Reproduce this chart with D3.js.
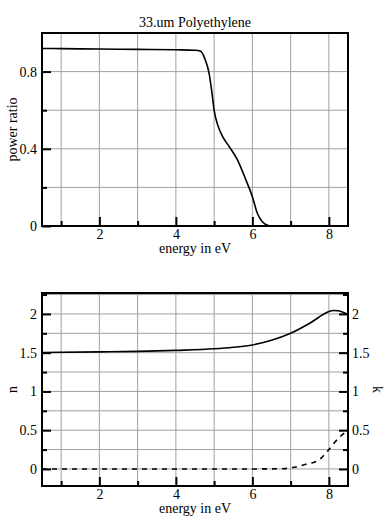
<!DOCTYPE html>
<html>
<script src="https://d3js.org/d3.v7.min.js"></script>
<style>
    body { margin: 0; background: #fff; }
    .domain { display: none; }
    .tick text { fill: #000; }
    .tick line { stroke: #000; stroke-width: 2px; }
</style>
<body></body>
<script>
    // measured values
    const ratioE = [0.5, 1, 2, 3, 4, 4.5, 4.65, 4.75, 4.87, 4.95, 5.0, 5.1, 5.22, 5.4, 5.61, 5.83, 6.0, 6.13, 6.25, 6.35, 6.48, 7, 8.5];
    const ratio = [0.92, 0.919, 0.917, 0.915, 0.913, 0.911, 0.905, 0.87, 0.79, 0.68, 0.6, 0.52, 0.464, 0.41, 0.343, 0.239, 0.152, 0.066, 0.025, 0.008, 0, 0, 0];
    const nE = [0.5, 2, 3, 4, 5, 5.5, 6, 6.5, 7, 7.5, 8, 8.1, 8.25, 8.5];
    const nVal = [1.502, 1.51, 1.517, 1.53, 1.55, 1.57, 1.6, 1.66, 1.75, 1.88, 2.03, 2.045, 2.04, 1.99];
    const kE = [0.5, 6, 6.8, 7, 7.17, 7.4, 7.65, 7.8, 7.91, 8.0, 8.13, 8.3, 8.45];
    const kVal = [0, 0, 0.003, 0.015, 0.03, 0.06, 0.094, 0.14, 0.2, 0.25, 0.33, 0.42, 0.48];

    const xMajor = [2, 4, 6, 8], xMinor = [1, 3, 5, 7];
    const topMajor = [0, 0.4, 0.8], topMinor = [0.2, 0.6];
    const botMajor = [0, 0.5, 1, 1.5, 2], botMinor = [-0.25, 0.25, 0.75, 1.25, 1.75, 2.25];

    const width = 390, height = 520;
    const font = "'Liberation Serif', 'Times New Roman', serif";
    const svg = d3.select("body").append("svg").attr("width", width).attr("height", height)
        .attr("font-family", font);

    const left = 42, right = 348;
    const x = d3.scaleLinear().domain([0.5, 8.5]).range([left, right]);

    function styleAxis(sel) {
        sel.attr("font-family", font).attr("font-size", 14);
        sel.selectAll("text").attr("font-family", font).attr("font-size", 14);
    }

    function panel(top, bottom, yDomain, major, minor, name, yLabel, rightAxis) {
        const y = d3.scaleLinear().domain(yDomain).range([bottom, top]);
        const g = svg.append("g");
        g.append("clipPath").attr("id", "clip" + name)
            .append("rect").attr("x", left).attr("y", top).attr("width", right - left).attr("height", bottom - top);

        // grid
        xMajor.concat(xMinor).forEach(v => {
            g.append("line").attr("x1", x(v)).attr("x2", x(v)).attr("y1", top).attr("y2", bottom)
                .attr("stroke", "#a0a0a0").attr("stroke-width", 1);
        });
        major.concat(minor).filter(v => v > yDomain[0] && v < yDomain[1]).forEach(v => {
            g.append("line").attr("x1", left).attr("x2", right).attr("y1", y(v)).attr("y2", y(v))
                .attr("stroke", "#a0a0a0").attr("stroke-width", 1);
        });

        const inMinor = minor.filter(v => v >= yDomain[0] && v <= yDomain[1]);

        // axes
        g.append("g").attr("transform", `translate(0,${bottom})`)
            .call(d3.axisBottom(x).tickValues(xMajor).tickSize(-9).tickPadding(3).tickFormat(d3.format("d")))
            .call(styleAxis);
        g.append("g").attr("transform", `translate(0,${bottom})`)
            .call(d3.axisBottom(x).tickValues(xMinor).tickSize(-5).tickFormat(""));
        g.append("g").attr("transform", `translate(${left},0)`)
            .call(d3.axisLeft(y).tickValues(major).tickSize(-9).tickPadding(5).tickFormat(d => d3.format("")(d)))
            .call(styleAxis);
        g.append("g").attr("transform", `translate(${left},0)`)
            .call(d3.axisLeft(y).tickValues(inMinor).tickSize(-5).tickFormat(""));
        if (rightAxis) {
            g.append("g").attr("transform", `translate(${right},0)`)
                .call(d3.axisRight(y).tickValues(major).tickSize(-9).tickPadding(4).tickFormat(d => d3.format("")(d)))
                .call(styleAxis);
            g.append("g").attr("transform", `translate(${right},0)`)
                .call(d3.axisRight(y).tickValues(inMinor).tickSize(-5).tickFormat(""));
        }

        g.append("rect").attr("x", left).attr("y", top).attr("width", right - left).attr("height", bottom - top)
            .attr("fill", "none").attr("stroke", "#000").attr("stroke-width", 2);

        g.append("text").attr("x", (left + right) / 2).attr("y", bottom + 27)
            .attr("text-anchor", "middle").attr("font-size", 14).text("energy in eV");
        g.append("text").attr("transform", `translate(12,${(top + bottom) / 2}) rotate(-90)`)
            .attr("text-anchor", "middle").attr("dy", "0.35em").attr("font-size", 14).text(yLabel);
        return { g, y, clip: "url(#clip" + name + ")" };
    }

    // top panel: power ratio
    const p1 = panel(33, 226, [0, 1], topMajor, topMinor, "a", "power ratio", false);
    svg.append("text").attr("x", 195).attr("y", 27).attr("text-anchor", "middle")
        .attr("font-size", 14).text("33.um Polyethylene");
    p1.g.append("path")
        .datum(ratioE.map((e, i) => [e, ratio[i]]))
        .attr("clip-path", p1.clip)
        .attr("fill", "none").attr("stroke", "#000").attr("stroke-width", 1.6)
        .attr("d", d3.line().x(d => x(d[0])).y(d => p1.y(d[1])).curve(d3.curveMonotoneX));

    // bottom panel: n and k
    const p2 = panel(293, 486, [-0.22, 2.27], botMajor, botMinor, "b", "n", true);
    p2.g.append("text").attr("transform", `translate(378,${(293 + 486) / 2}) rotate(90)`)
        .attr("text-anchor", "middle").attr("dy", "0.35em").attr("font-size", 14).text("k");
    p2.g.append("path")
        .datum(nE.map((e, i) => [e, nVal[i]]))
        .attr("clip-path", p2.clip)
        .attr("fill", "none").attr("stroke", "#000").attr("stroke-width", 1.6)
        .attr("d", d3.line().x(d => x(d[0])).y(d => p2.y(d[1])).curve(d3.curveMonotoneX));
    p2.g.append("path")
        .datum(kE.map((e, i) => [e, kVal[i]]))
        .attr("clip-path", p2.clip)
        .attr("fill", "none").attr("stroke", "#000").attr("stroke-width", 1.6)
        .attr("stroke-dasharray", "5,5")
        .attr("d", d3.line().x(d => x(d[0])).y(d => p2.y(d[1])).curve(d3.curveMonotoneX));
</script>
</html>
